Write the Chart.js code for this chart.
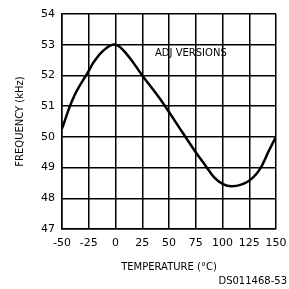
<!DOCTYPE html>
<html>
<head>
<meta charset="utf-8">
<script src="https://cdn.jsdelivr.net/npm/chart.js@4/dist/chart.umd.min.js"></script>
<style>
html,body{margin:0;padding:0;background:#fff;}
#wrap{width:289px;height:289px;position:relative;}
</style>
</head>
<body>
<div id="wrap"><canvas id="c" width="289" height="289"></canvas></div>
<script>
const temperatures = [-50, -39, -25, -20, -11, 0, 11, 25, 39, 50, 62.5, 75, 84, 92, 100, 109, 123, 134, 143.5, 150];
const frequencies  = [50.27, 51.3, 52.15, 52.45, 52.82, 53.0, 52.67, 52.0, 51.36, 50.81, 50.15, 49.5, 49.07, 48.69, 48.47, 48.39, 48.53, 48.9, 49.56, 50.0];
const xTicks = [-50, -25, 0, 25, 50, 75, 100, 125, 150];
const yTicks = [47, 48, 49, 50, 51, 52, 53, 54];
const xTitle = 'TEMPERATURE (°C)';
const yTitle = 'FREQUENCY (kHz)';
const seriesLabel = 'ADJ VERSIONS';
const docId = 'DS011468-53';

const FONT = 'DejaVu Sans';

const textPlugin = {
  id: 'texts',
  afterDraw(chart) {
    const ctx = chart.ctx;
    ctx.save();
    ctx.fillStyle = '#000';
    ctx.font = '10px "' + FONT + '"';
    ctx.textBaseline = 'middle';
    ctx.textAlign = 'left';
    ctx.fillText(seriesLabel, 155, 53);
    ctx.textAlign = 'right';
    ctx.fillText(docId, 287, 281);
    ctx.restore();
  }
};

new Chart(document.getElementById('c'), {
  type: 'line',
  data: {
    datasets: [{
      label: seriesLabel,
      data: temperatures.map((t, i) => ({x: t, y: frequencies[i]})),
      borderColor: '#000',
      borderWidth: 2.5,
      pointRadius: 0,
      fill: false,
      tension: 0.4
    }]
  },
  options: {
    responsive: false,
    animation: false,
    devicePixelRatio: 1,
    layout: {padding: {top: 14, right: 13, left: 0, bottom: 0}},
    plugins: {legend: {display: false}, tooltip: {enabled: false}},
    scales: {
      x: {
        type: 'linear',
        min: -50, max: 150,
        afterBuildTicks(scale) { scale.ticks = xTicks.map(v => ({value: v})); },
        afterFit(scale) { scale.height = 60; scale.paddingRight = 0; },
        grid: {color: '#000', lineWidth: 1.5, drawTicks: false},
        border: {color: '#000', width: 1.5},
        ticks: {color: '#000', font: {family: FONT, size: 11}, padding: 8, maxRotation: 0, autoSkip: false},
        title: {display: true, text: xTitle, color: '#000', font: {family: FONT, size: 10}, padding: {top: 0, bottom: 16}}
      },
      y: {
        min: 47, max: 54,
        afterBuildTicks(scale) { scale.ticks = yTicks.map(v => ({value: v})); },
        afterFit(scale) { scale.width = 62; },
        grid: {color: '#000', lineWidth: 1.5, drawTicks: false},
        border: {color: '#000', width: 1.5},
        ticks: {color: '#000', font: {family: FONT, size: 11}, padding: 7, autoSkip: false},
        title: {display: true, text: yTitle, color: '#000', font: {family: FONT, size: 10}, padding: {top: 14, bottom: 0}}
      }
    }
  },
  plugins: [textPlugin]
});
</script>
</body>
</html>
